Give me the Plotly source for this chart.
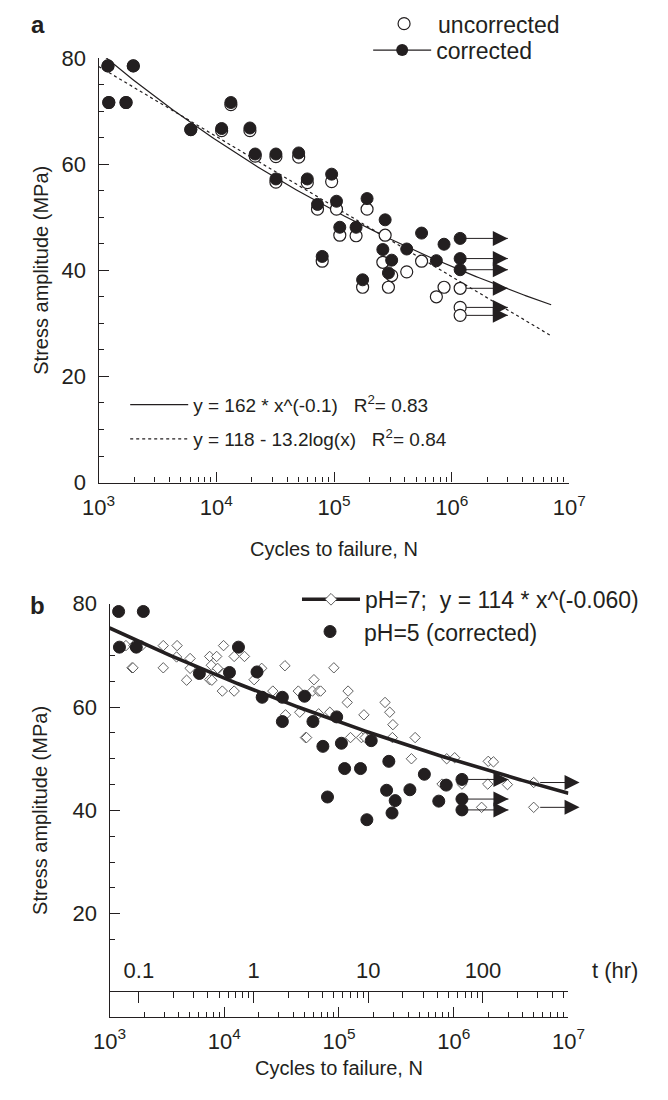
import math
import numpy as np
import plotly.graph_objects as go

FONT = "Liberation Sans, Arial, Helvetica, sans-serif"
INK = "#231f20"
GREY = "#4d4d4d"

# ---------------- Panel a data ----------------
cycles_a = [1200, 1970, 1220, 1710, 6070, 11100, 13300, 19300, 21400, 32100,
            50100, 32100, 59300, 95500, 72400, 105000, 191000, 112000, 154000, 272000,
            79400, 175000, 260000, 309000, 290000, 415000, 555000, 741000, 861000,
            1180000, 1180000, 1180000]
stress_corrected = [78.5, 78.5, 71.6, 71.6, 66.5, 66.7, 71.6, 66.8, 61.9, 61.9,
                    62.1, 57.2, 57.2, 58.1, 52.4, 53.0, 53.5, 48.1, 48.1, 49.5,
                    42.6, 38.2, 43.9, 41.9, 39.5, 44.0, 47.0, 41.8, 44.9,
                    46.0, 42.2, 40.1]
stress_uncorrected = [78.5, 78.5, 71.6, 71.6, 66.5, 66.3, 71.2, 66.3, 61.5, 61.4,
                      61.3, 56.6, 56.5, 56.7, 51.5, 51.5, 51.5, 46.6, 46.5, 46.6,
                      41.7, 36.8, 41.5, 39.0, 36.8, 39.7, 41.7, 35.0, 36.8,
                      36.6, 33.0, 31.5]
is_runout = [False] * 29 + [True] * 3
runout_arrow_end = 3.0e6

fit_power_coef, fit_power_exp = 162, -0.1
fit_log_int, fit_log_slope = 118, -13.2
fit_n_min, fit_n_max = 1.0e3, 7.0e6

# ---------------- Panel b data ----------------
cycles_ph7 = [1390, 1630, 1910, 1570, 1600, 2940, 2940, 3880, 3840, 5040,
              5040, 4700, 7460, 8590, 7710, 8750, 7460, 7800, 9860, 12200,
              15000, 9620, 12200, 9930, 18200, 21200, 26500, 33800, 34200, 44200,
              45500, 51000, 52200, 60500, 58700, 66500, 69200, 66500, 83200, 90200,
              120000, 118000, 126000, 165000, 157000, 169000, 252000, 277000, 295000, 292000,
              461000, 428000, 869000, 1020000, 2000000, 2220000, 791000, 1180000, 1980000, 2940000,
              1750000]
stress_ph7 = [71.9, 71.9, 71.9, 67.6, 67.6, 71.9, 67.6, 71.9, 69.7, 69.4,
              67.5, 65.2, 69.8, 69.8, 68.1, 67.5, 65.3, 65.2, 71.9, 69.8,
              69.8, 63.1, 63.1, 66.5, 65.3, 67.5, 63.1, 68.0, 58.5, 63.1,
              59.0, 54.1, 54.1, 65.3, 63.1, 63.1, 63.1, 58.7, 59.0, 67.6,
              63.1, 60.9, 54.1, 58.5, 54.1, 54.1, 60.9, 59.0, 56.6, 54.1,
              54.1, 50.0, 50.0, 50.2, 49.5, 49.4, 45.1, 45.1, 45.1, 45.0,
              40.6]
cycles_ph7_runout = [4980000, 4980000]
stress_ph7_runout = [45.4, 40.6]
ph7_arrow_end = 1.25e7
ph7_coef, ph7_exp = 114, -0.060

cycles_per_hour = 18000  # 5 Hz loading
hour_ticks = [0.1, 1, 10, 100]
hour_labels = ["0.1", "1", "10", "100"]
hour_minor = [k * 10.0 ** e for e in (-1, 0, 1) for k in range(2, 10)] + [200, 300, 400, 500]

x_tickvals = [1e3, 1e4, 1e5, 1e6, 1e7]
x_ticktext = ["10<sup>3</sup>", "10<sup>4</sup>", "10<sup>5</sup>", "10<sup>6</sup>", "10<sup>7</sup>"]
x_minor = [k * 10.0 ** e for e in (3, 4, 5, 6) for k in range(2, 10)]
y_tickvals = [0, 20, 40, 60, 80]

# ---------------- derived series ----------------
n_fit = np.logspace(math.log10(fit_n_min), math.log10(fit_n_max), 200)
y_power = fit_power_coef * n_fit ** fit_power_exp
y_log = fit_log_int + fit_log_slope * np.log10(n_fit)
n_ph7 = np.logspace(3, 7, 200)
y_ph7 = ph7_coef * n_ph7 ** ph7_exp

def arrow_segments(starts, ends, values):
    xs, ys = [], []
    for n0, n1, s in zip(starts, ends, values):
        xs += [n0, n1, None]
        ys += [s, s, None]
    return xs, ys

ro_n = [n for n, r in zip(cycles_a, is_runout) if r]
ro_c = [s for s, r in zip(stress_corrected, is_runout) if r]
ro_u = [s for s, r in zip(stress_uncorrected, is_runout) if r]
ro_end = [runout_arrow_end] * len(ro_n)
a_arrow_x, a_arrow_y = arrow_segments(ro_n + ro_n, ro_end + ro_end, ro_c + ro_u)
b5_arrow_x, b5_arrow_y = arrow_segments(ro_n, ro_end, ro_c)

W, H = 668, 1100
def px_x(p):
    return p / W
def px_y(p):
    return 1 - p / H

fig = go.Figure()

def arrows(xs, ys, xa, ya, ends_x, ends_y):
    fig.add_trace(go.Scatter(x=xs, y=ys, mode="lines", xaxis=xa, yaxis=ya,
                             line=dict(color=INK, width=1), showlegend=False, hoverinfo="skip"))
    fig.add_trace(go.Scatter(x=ends_x, y=ends_y, mode="markers", xaxis=xa, yaxis=ya,
                             marker=dict(symbol="arrow-right", size=15, color=INK,
                                         line=dict(width=0)),
                             cliponaxis=False, showlegend=False, hoverinfo="skip"))

# ---- panel a ----
fig.add_trace(go.Scatter(x=n_fit, y=y_power, mode="lines", xaxis="x", yaxis="y",
                         line=dict(color=INK, width=1.2),
                         name="y = 162 * x^(-0.1)\u00a0\u00a0\u00a0R<sup>2</sup>= 0.83",
                         legend="legend3"))
fig.add_trace(go.Scatter(x=n_fit, y=y_log, mode="lines", xaxis="x", yaxis="y",
                         line=dict(color=INK, width=1.2, dash="dot"),
                         name="y = 118 - 13.2log(x)\u00a0\u00a0\u00a0R<sup>2</sup>= 0.84",
                         legend="legend4"))
arrows(a_arrow_x, a_arrow_y, "x", "y", ro_end + ro_end, ro_c + ro_u)
fig.add_trace(go.Scatter(x=cycles_a, y=stress_uncorrected, mode="markers", xaxis="x", yaxis="y",
                         marker=dict(symbol="circle", size=12, color="white",
                                     line=dict(color=INK, width=1.2)),
                         name="uncorrected", legend="legend"))
fig.add_trace(go.Scatter(x=cycles_a, y=stress_corrected, mode="markers", xaxis="x", yaxis="y",
                         marker=dict(symbol="circle", size=12, color=INK,
                                     line=dict(color=INK, width=1)),
                         name="corrected", showlegend=False))
fig.add_trace(go.Scatter(x=[None], y=[None], mode="lines+markers", xaxis="x", yaxis="y",
                         line=dict(color=INK, width=1.2),
                         marker=dict(symbol="circle", size=12, color=INK),
                         name="corrected", legend="legend2"))

# ---- panel b ----
fig.add_trace(go.Scatter(x=cycles_ph7 + cycles_ph7_runout, y=stress_ph7 + stress_ph7_runout,
                         mode="markers", xaxis="x2", yaxis="y2",
                         marker=dict(symbol="diamond", size=8, color="white",
                                     line=dict(color=GREY, width=0.9)),
                         name="pH=7", showlegend=False))
fig.add_trace(go.Scatter(x=n_ph7, y=y_ph7, mode="lines", xaxis="x2", yaxis="y2",
                         line=dict(color=INK, width=3.6), name="pH=7 fit", showlegend=False))
arrows(b5_arrow_x, b5_arrow_y, "x2", "y2", ro_end, ro_c)
fig.add_trace(go.Scatter(x=[None], y=[None], mode="lines+markers", xaxis="x2", yaxis="y2",
                         line=dict(color=INK, width=3.6),
                         marker=dict(symbol="diamond", size=9, color="white",
                                     line=dict(color=GREY, width=0.9)),
                         name="pH=7;\u00a0\u00a0y = 114 * x^(-0.060)", legend="legend5"))
fig.add_trace(go.Scatter(x=cycles_a, y=stress_corrected, mode="markers", xaxis="x2", yaxis="y2",
                         marker=dict(symbol="circle", size=12, color=INK,
                                     line=dict(color=INK, width=1)),
                         name="pH=5 (corrected)", legend="legend6"))
# hidden trace so the time axis (hours) is drawn
fig.add_trace(go.Scatter(x=[None], y=[None], mode="markers", xaxis="x3", yaxis="y2",
                         showlegend=False, hoverinfo="skip"))

ya_dom = [px_y(481.5), px_y(47)]
yb_dom = [px_y(1028.5), px_y(605.5)]
xa_dom = [px_x(86), px_x(582)]
xb_dom = [px_x(97.5), px_x(581)]
hr_axis_pos = yb_dom[0] + (yb_dom[1] - yb_dom[0]) * 5 / 80

annotations = [
    dict(text="<b>a</b>", x=px_x(22), y=px_y(13), xref="paper", yref="paper",
         xanchor="center", yanchor="middle", showarrow=False,
         font=dict(size=24, family=FONT, color=INK)),
    dict(text="<b>b</b>", x=px_x(22), y=px_y(607), xref="paper", yref="paper",
         xanchor="center", yanchor="middle", showarrow=False,
         font=dict(size=24, family=FONT, color=INK)),
    dict(text="t (hr)", x=px_x(630), y=px_y(981), xref="paper", yref="paper",
         xanchor="center", yanchor="middle", showarrow=False,
         font=dict(size=22, family=FONT, color=INK)),
]
# pH=7 run-out arrows reach past the end of the axis, so they are drawn as annotations
for n0, s in zip(cycles_ph7_runout, stress_ph7_runout):
    annotations.append(dict(x=math.log10(ph7_arrow_end), y=s, ax=math.log10(n0), ay=s,
                            xref="x2", yref="y2", axref="x2", ayref="y2",
                            text="", showarrow=True, arrowhead=2, arrowsize=3,
                            arrowwidth=1, arrowcolor=INK, startstandoff=5, standoff=0))

tickfont = dict(size=22, family=FONT, color=INK)
titlefont = dict(size=20, family=FONT, color=INK)

def xaxis_common(domain, label_off, title_off):
    return dict(type="log", range=[3, 7], domain=domain, showline=True, linecolor=INK,
                linewidth=1.3, ticks="inside", ticklen=10, tickwidth=1.3, tickcolor=INK,
                tickmode="array", tickvals=x_tickvals, ticktext=x_ticktext,
                minor=dict(ticks="inside", ticklen=5, tickwidth=1, tickcolor=INK,
                           tickmode="array", tickvals=x_minor),
                showgrid=False, zeroline=False, tickfont=tickfont, ticklabelstandoff=label_off,
                title=dict(text="Cycles to failure, N", font=titlefont, standoff=title_off))

def yaxis_common(domain, title_off):
    return dict(range=[0, 80], domain=domain, showline=True, linecolor=INK, linewidth=1.3,
                ticks="inside", ticklen=10, tickwidth=1.3, tickcolor=INK,
                tickmode="array", tickvals=y_tickvals,
                minor=dict(ticks="inside", ticklen=5, tickwidth=1, tickcolor=INK, dtick=5, tick0=0),
                showgrid=False, zeroline=False, tickfont=tickfont, ticklabelstandoff=7,
                title=dict(text="Stress amplitude (MPa)", font=titlefont, standoff=title_off))

def leg(xp, yp, size):
    return dict(x=px_x(xp), y=px_y(yp), xanchor="left", yanchor="middle",
                bgcolor="rgba(0,0,0,0)", itemwidth=58,
                font=dict(size=size, family=FONT, color=INK))

fig.update_layout(
    width=W, height=H, margin=dict(l=0, r=0, t=0, b=0),
    paper_bgcolor="white", plot_bgcolor="white",
    font=dict(family=FONT, color=INK),
    xaxis=dict(anchor="y", **xaxis_common(xa_dom, 5, 22)),
    yaxis=dict(anchor="x", **yaxis_common(ya_dom, 7)),
    xaxis2=dict(anchor="y2", **xaxis_common(xb_dom, 4, 8)),
    yaxis2=dict(anchor="x2", **yaxis_common(yb_dom, 19)),
    xaxis3=dict(type="log", overlaying="x2", anchor="free", position=hr_axis_pos,
                range=[math.log10(1e3 / cycles_per_hour), math.log10(1e7 / cycles_per_hour)],
                side="bottom", showline=True, linecolor=INK, linewidth=1.3,
                ticks="outside", ticklen=11, tickwidth=1.3, tickcolor=INK,
                ticklabelposition="inside", ticklabelstandoff=10,
                tickmode="array", tickvals=hour_ticks, ticktext=hour_labels,
                minor=dict(ticks="outside", ticklen=6, tickwidth=1, tickcolor=INK,
                           tickmode="array", tickvals=hour_minor),
                showgrid=False, zeroline=False, tickfont=dict(size=22, family=FONT, color=INK)),
    legend=leg(372, 12, 23),
    legend2=leg(370, 39, 23),
    legend3=leg(114, 402, 19),
    legend4=leg(114, 437, 19),
    legend5=leg(295, 601, 23),
    legend6=leg(294, 634, 23),
    annotations=annotations,
    showlegend=True,
)

fig.write_html("out.html", config={"displayModeBar": False},
               post_script="document.body.style.margin='0';")
